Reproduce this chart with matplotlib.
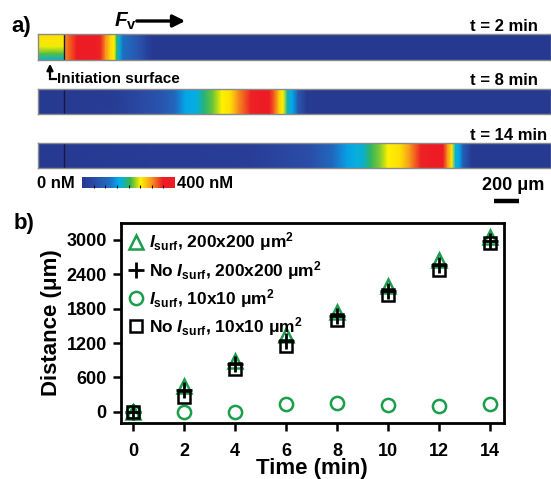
import numpy as np
import matplotlib
matplotlib.use("Agg")
import matplotlib.pyplot as plt
from matplotlib.colors import LinearSegmentedColormap, Normalize
from matplotlib.colorbar import ColorbarBase

plt.rcParams['font.family'] = ['Liberation Sans', 'DejaVu Sans']
plt.rcParams['font.weight'] = 'bold'
plt.rcParams['axes.labelweight'] = 'bold'
plt.rcParams['mathtext.fontset'] = 'custom'
plt.rcParams['mathtext.rm'] = 'Liberation Sans:bold'
plt.rcParams['mathtext.bf'] = 'Liberation Sans:bold'
plt.rcParams['mathtext.it'] = 'Liberation Sans:italic:bold'

# ---- panel a: concentration along channel (um from strip start, nM) ----
init_edge = 208          # end of initiation surface (um)
channel_end = 4104
init_rows = [262, 258, 248, 215, 170]   # t = 2 min, initiation area, top -> bottom

pos_2min = [208, 250, 310, 370, 450, 500, 540, 580, 610, 630, 650, 680, 750, 810, 870, 920, 4104]
conc_2min = [300, 320, 350, 375, 370, 345, 300, 265, 252, 200, 165, 120, 95, 70, 30, 5, 5]

pos_8min = [0, 600, 800, 1000, 1100, 1180, 1270, 1330, 1400, 1470, 1540, 1600, 1700, 1780,
            1850, 1890, 1930, 1960, 1995, 2030, 2080, 2150, 4104]
conc_8min = [8, 15, 45, 75, 110, 155, 165, 195, 220, 252, 262, 300, 345, 375,
             370, 320, 270, 250, 180, 160, 80, 8, 8]

pos_14min = [0, 1700, 2180, 2360, 2470, 2540, 2600, 2660, 2740, 2800, 2900, 2980, 3060, 3150,
             3240, 3275, 3310, 3340, 3365, 3400, 3470, 4104]
conc_14min = [8, 20, 60, 110, 150, 165, 170, 200, 225, 252, 262, 300, 345, 375,
              365, 300, 255, 170, 160, 90, 8, 8]

strip_labels = ['t = 2 min', 't = 8 min', 't = 14 min']
scale_um = 200

# ---- panel b ----
time_min = [0, 2, 4, 6, 8, 10, 12, 14]
isurf_200 = [0, 440, 890, 1340, 1750, 2200, 2650, 3050]
no_isurf_200 = [0, 380, 830, 1230, 1670, 2110, 2560, 2990]
isurf_10 = [0, 0, 0, 130, 145, 117, 100, 135]
no_isurf_10 = [0, 265, 745, 1140, 1600, 2035, 2475, 2945]

cmap = LinearSegmentedColormap.from_list('conc', [
    (0.00, '#26378f'), (0.15, '#2b4ea8'), (0.30, '#1e6fc2'), (0.40, '#00aeef'),
    (0.52, '#39b54a'), (0.63, '#fff200'), (0.75, '#f7941d'), (0.87, '#ed1c24'),
    (1.00, '#ed1c24')])
norm = Normalize(0, 400)

W, H = 551, 479
fig = plt.figure(figsize=(W / 100, H / 100), dpi=100)


def box(x0, y0, x1, y1):
    return [x0 / W, 1 - y1 / H, (x1 - x0) / W, (y1 - y0) / H]


def fx(x):
    return x / W


def fy(y):
    return 1 - y / H


strip_boxes = [(38, 34, 551, 60), (38, 89, 551, 114), (38, 143, 551, 168)]
profiles = [(pos_2min, conc_2min), (pos_8min, conc_8min), (pos_14min, conc_14min)]
label_y = [31, 85, 140]

for i, (b, (p, c)) in enumerate(zip(strip_boxes, profiles)):
    ax = fig.add_axes(box(*b))
    p = np.array(p, float)
    c = np.array(c, float)
    X = np.vstack([p, p])
    Y = np.vstack([np.zeros_like(p), np.ones_like(p)])
    ax.pcolormesh(X, Y, np.vstack([c, c]), cmap=cmap, norm=norm, shading='gouraud')
    if i == 0:
        n = len(init_rows)
        yy = np.linspace(1, 0, n)
        Xi = np.array([[0, init_edge]] * n, float)
        Yi = np.column_stack([yy, yy])
        Ci = np.column_stack([init_rows, init_rows]).astype(float)
        ax.pcolormesh(Xi, Yi, Ci, cmap=cmap, norm=norm, shading='gouraud')
    else:
        ax.axvspan(0, init_edge, color=cmap(norm(8)), lw=0)
    ax.axvline(init_edge, color='#15183a', lw=1.0)
    ax.set_xlim(0, channel_end)
    ax.set_ylim(0, 1)
    ax.set_xticks([])
    ax.set_yticks([])
    for s in ax.spines.values():
        s.set_color('#8a8a8a')
        s.set_linewidth(1.0)
    fig.text(fx(470), fy(label_y[i]), strip_labels[i], fontsize=12, va='baseline', ha='left')

# colorbar
cax = fig.add_axes(box(82, 177, 175, 188))
cb = ColorbarBase(cax, cmap=cmap, norm=norm, orientation='horizontal')
cb.outline.set_linewidth(0)
cb.set_ticks([50, 100, 150, 200, 250, 300, 350])
cax.tick_params(axis='x', direction='in', length=2, width=0.8, labelbottom=False)
fig.text(fx(37), fy(188), '0 nM', fontsize=12, va='baseline', ha='left')
fig.text(fx(177), fy(188), '400 nM', fontsize=12, va='baseline', ha='left')

# scale bar
sax = fig.add_axes(box(38, 172, 551, 205))
sax.set_xlim(0, channel_end)
sax.set_ylim(0, 1)
sax.axis('off')
sax.plot([3650, 3650 + scale_um], [0.12, 0.12], color='black', lw=3.2, solid_capstyle='butt')
fig.text(fx(513), fy(190), '200 \u03bcm', fontsize=13, va='baseline', ha='center')

# labels panel a
fig.text(fx(11), fy(32), 'a)', fontsize=16, va='baseline')
fig.text(fx(114), fy(27), r'$F_{\mathrm{v}}$', fontsize=15, va='baseline')
fig.add_artist(plt.Line2D([fx(50), fx(56)], [fy(79), fy(79)], color='black', lw=1.6))
fig.add_artist(matplotlib.patches.FancyArrowPatch((fx(50), fy(79.8)), (fx(50), fy(61)),
                                                  transform=fig.transFigure, arrowstyle='-|>',
                                                  mutation_scale=9, lw=1.6, color='black'))
fig.text(fx(57), fy(83), 'Initiation surface', fontsize=11, va='baseline')
fig.add_artist(matplotlib.patches.FancyArrowPatch((fx(134), fy(21)), (fx(188), fy(21)),
                                                  transform=fig.transFigure, arrowstyle='-|>',
                                                  mutation_scale=18, lw=2.4, color='black'))

# ---- panel b ----
green = '#1b9e4b'
ax = fig.add_axes(box(120.7, 222.7, 504, 423.3))
ax.plot(time_min, isurf_200, ls='none', marker='^', ms=10, mfc='none', mec=green, mew=1.8,
        label=r'$I_{\mathrm{surf}}$, 200x200 ' + '\u03bcm$^2$')
ax.plot(time_min, no_isurf_200, ls='none', marker='+', ms=11, mec='black', mew=2.0,
        label='No ' + r'$I_{\mathrm{surf}}$, 200x200 ' + '\u03bcm$^2$')
ax.plot(time_min, isurf_10, ls='none', marker='o', ms=9.5, mfc='none', mec=green, mew=1.8,
        label=r'$I_{\mathrm{surf}}$, 10x10 ' + '\u03bcm$^2$')
ax.plot(time_min, no_isurf_10, ls='none', marker='s', ms=9, mfc='none', mec='black', mew=1.8,
        label='No ' + r'$I_{\mathrm{surf}}$, 10x10 ' + '\u03bcm$^2$')
ax.set_xlim(-0.5, 14.57)
ax.set_ylim(-203, 3302)
ax.set_xticks(time_min)
ax.set_yticks([0, 600, 1200, 1800, 2400, 3000])
ax.tick_params(direction='out', length=6, width=1.8, labelsize=13, pad=4)
ax.tick_params(axis='x', pad=8)
for s in ax.spines.values():
    s.set_linewidth(2.0)
ax.set_xlabel('Time (min)', fontsize=16, fontweight='bold', labelpad=-1)
ax.set_ylabel('Distance (\u03bcm)', fontsize=16, fontweight='bold', labelpad=3)
ax.legend(loc='upper left', frameon=False, fontsize=12.5, handlelength=0.9,
          handletextpad=0.3, labelspacing=0.3, borderaxespad=0.15, borderpad=0.3)
fig.text(fx(14), fy(229), 'b)', fontsize=16, va='baseline')

fig.savefig('out.png', dpi=100)
